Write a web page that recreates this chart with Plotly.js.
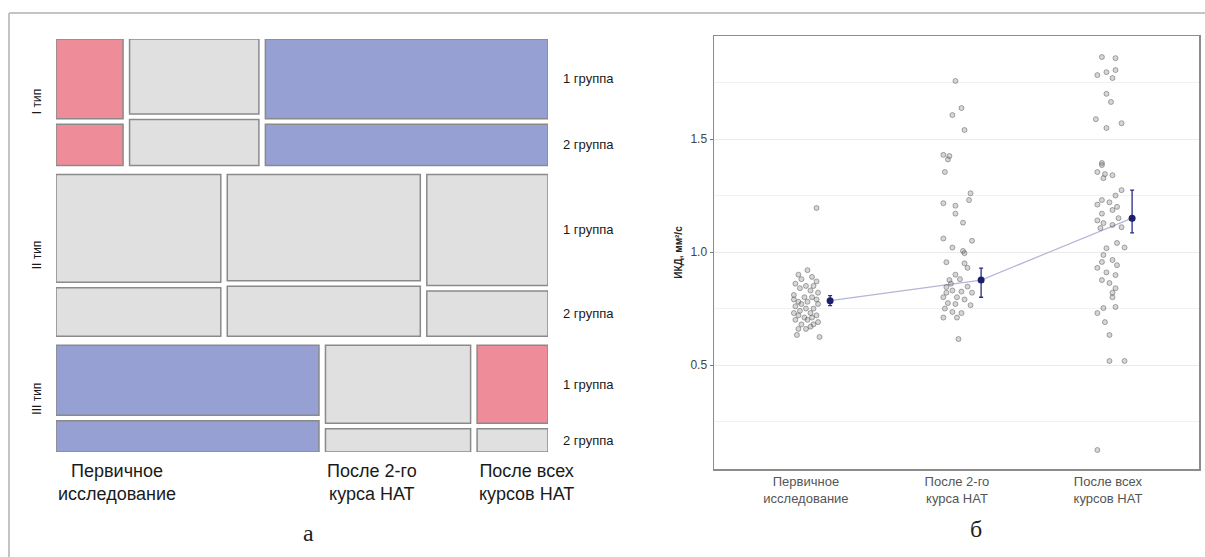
<!DOCTYPE html>
<html>
<head>
<meta charset="utf-8">
<script src="https://cdn.plot.ly/plotly-3.0.1.min.js"></script>
<style>html,body{margin:0;padding:0;background:#fff;}#chart{width:1205px;height:557px;}</style>
</head>
<body>
<div id="chart"></div>
<script>
// ---------- Mosaic (a) data ----------
const typeLabels = ['I тип', 'II тип', 'III тип'];
const groupLabels = ['1 группа', '2 группа'];
const timeLabels = ['Первичное<br>исследование', 'После 2-го<br>курса НАТ', 'После всех<br>курсов НАТ'];
const typeShare = [0.32, 0.41, 0.27];
const timeShareI = [0.14, 0.27, 0.59];
const timeShareII = [0.344, 0.403, 0.253];
const timeShareIII = [0.549, 0.303, 0.148];
const group1ShareI = [0.66, 0.62, 0.66];
const group1ShareII = [0.69, 0.68, 0.71];
const group1ShareIII = [0.69, 0.77, 0.77];
// residual shading: 'hi' = pink, 'lo' = blue, 'no' = grey
const shadeG1I = ['hi', 'no', 'lo'];
const shadeG2I = ['hi', 'no', 'lo'];
const shadeG1II = ['no', 'no', 'no'];
const shadeG2II = ['no', 'no', 'no'];
const shadeG1III = ['lo', 'no', 'hi'];
const shadeG2III = ['lo', 'no', 'no'];

// ---------- Jitter plot (б) data ----------
const catLabels = ['Первичное<br>исследование', 'После 2-го<br>курса НАТ', 'После всех<br>курсов НАТ'];
const ikd0 = [0.90,0.92,0.88,0.89,0.87,0.86,0.85,0.85,0.84,0.83,0.82,0.81,0.80,0.80,0.79,0.78,0.78,0.77,0.77,0.76,0.75,0.75,0.74,0.73,0.73,0.72,0.72,0.71,0.71,0.70,0.70,0.69,0.68,0.68,0.66,0.66,0.633,0.624,0.67,0.79,1.195];
const jit0 = [-0.05,0.01,-0.03,0.04,0.07,-0.07,0.00,0.05,-0.04,0.03,0.08,-0.08,-0.01,0.04,0.07,-0.05,0.01,-0.03,0.08,-0.07,0.00,0.05,-0.04,0.03,-0.08,0.07,-0.05,-0.01,0.04,-0.07,0.01,0.08,-0.03,0.05,-0.05,0.00,-0.06,0.09,0.03,-0.08,0.07];
const ikd1 = [1.757,1.637,1.606,1.54,1.43,1.425,1.41,1.354,1.26,1.23,1.216,1.205,1.17,1.13,1.06,1.05,1.02,1.005,0.995,0.955,0.95,0.93,0.90,0.876,0.88,0.845,0.847,0.83,0.825,0.82,0.80,0.80,0.774,0.765,0.75,0.735,0.73,0.71,0.71,0.615,0.86,0.79,0.77,0.82];
const jit1 = [-0.01,0.03,-0.03,0.05,-0.09,-0.05,-0.06,-0.08,0.09,0.08,-0.09,-0.01,-0.01,0.04,-0.09,0.10,-0.03,0.04,0.05,-0.07,0.05,0.07,-0.01,-0.05,0.02,-0.07,0.07,-0.03,0.03,0.10,-0.09,0.00,-0.06,0.09,-0.08,-0.03,0.03,-0.09,0.00,0.01,-0.04,0.05,-0.01,-0.07];
const ikd2 = [1.863,1.858,1.796,1.805,1.783,1.77,1.70,1.664,1.588,1.57,1.549,1.394,1.385,1.354,1.345,1.34,1.327,1.274,1.25,1.23,1.22,1.21,1.20,1.186,1.17,1.15,1.14,1.128,1.12,1.11,1.106,1.04,1.02,1.017,0.987,0.965,0.956,0.942,0.93,0.91,0.898,0.876,0.863,0.84,0.80,0.82,0.757,0.752,0.73,0.69,0.633,0.518,0.518,0.124];
const jit2 = [-0.04,0.05,-0.01,0.05,-0.07,0.03,-0.01,0.02,-0.08,0.09,-0.01,-0.04,-0.04,-0.07,-0.02,0.03,-0.03,0.09,0.05,-0.04,0.01,-0.07,0.06,0.03,-0.04,0.07,-0.07,-0.03,0.03,0.09,-0.05,0.06,0.11,-0.01,-0.03,0.03,-0.04,0.06,-0.07,-0.01,0.05,-0.04,0.01,0.05,0.03,0.03,0.05,-0.03,-0.07,-0.02,0.01,0.01,0.11,-0.07];
const meanIkd = [0.785, 0.876, 1.150];
const errUp = [0.022, 0.053, 0.124];
const errDown = [0.022, 0.076, 0.065];

// ---------- build mosaic rectangles ----------
const COLORS = {hi: '#EF8C9A', lo: '#97A0D3', no: '#E0E0E0'};
const timeShares = [timeShareI, timeShareII, timeShareIII];
const g1Shares = [group1ShareI, group1ShareII, group1ShareIII];
const shadesG1 = [shadeG1I, shadeG1II, shadeG1III];
const shadesG2 = [shadeG2I, shadeG2II, shadeG2III];
const gapX = 0.0132, gapY = 0.0218, gapG = 0.0133;

const bx = [], bw = [], bb = [], bh = [], bc = [];
const annotations = [];
const fontSans = 'Liberation Sans, Arial, sans-serif';
let y0 = 0;
const lastRowStarts = [];
for (let t = 0; t < 3; t++) {
  const h = typeShare[t] * (1 - 2 * gapY);
  let x0 = 0;
  let lastG1Center = 0, lastG2Center = 0;
  for (let c = 0; c < 3; c++) {
    const w = timeShares[t][c] * (1 - 2 * gapX);
    const h1 = g1Shares[t][c] * (h - gapG);
    const h2 = h - gapG - h1;
    bx.push(x0 + w / 2); bw.push(w); bb.push(y0); bh.push(h1); bc.push(COLORS[shadesG1[t][c]]);
    bx.push(x0 + w / 2); bw.push(w); bb.push(y0 + h1 + gapG); bh.push(h2); bc.push(COLORS[shadesG2[t][c]]);
    lastG1Center = y0 + h1 / 2;
    lastG2Center = y0 + h1 + gapG + h2 / 2;
    if (t === 2) lastRowStarts.push(x0);
    x0 += w + gapX;
  }
  annotations.push({xref: 'x', yref: 'y', x: 1, y: lastG1Center, xanchor: 'left', yanchor: 'middle', xshift: 13, text: groupLabels[0], showarrow: false, font: {family: fontSans, size: 13, color: '#1a1a1a'}});
  annotations.push({xref: 'x', yref: 'y', x: 1, y: lastG2Center, xanchor: 'left', yanchor: 'middle', xshift: 13, text: groupLabels[1], showarrow: false, font: {family: fontSans, size: 13, color: '#1a1a1a'}});
  annotations.push({xref: 'x', yref: 'y', x: 0, y: y0 + h / 2, xanchor: 'center', yanchor: 'middle', xshift: -19, textangle: -90, text: typeLabels[t], showarrow: false, font: {family: fontSans, size: 12, color: '#1a1a1a'}});
  y0 += h + gapY;
}
for (let c = 0; c < 3; c++) {
  annotations.push({xref: 'x', yref: 'y', x: lastRowStarts[c], y: 1, xanchor: 'left', yanchor: 'top', yshift: -7, align: 'center', text: timeLabels[c], showarrow: false, font: {family: fontSans, size: 18, color: '#1a1a1a'}});
}
annotations.push({xref: 'paper', yref: 'paper', x: 308 / 1205, y: 1 - 533 / 557, xanchor: 'center', yanchor: 'middle', text: 'а', showarrow: false, font: {family: 'Liberation Serif, DejaVu Serif, serif', size: 24, color: '#222'}});
annotations.push({xref: 'paper', yref: 'paper', x: 976 / 1205, y: 1 - 529 / 557, xanchor: 'center', yanchor: 'middle', text: 'б', showarrow: false, font: {family: 'Liberation Serif, DejaVu Serif, serif', size: 24, color: '#222'}});

const mosaic = {
  type: 'bar', xaxis: 'x', yaxis: 'y',
  x: bx, width: bw, base: bb, y: bh,
  marker: {color: bc, line: {color: '#8a8a8a', width: 1.5}},
  hoverinfo: 'skip', showlegend: false
};

// ---------- jitter traces ----------
const meanOffset = 0.16;
const meanX = meanIkd.map((v, i) => i + meanOffset);
const ptsX = [].concat(jit0.map(j => 0 + j), jit1.map(j => 1 + j), jit2.map(j => 2 + j));
const ptsY = [].concat(ikd0, ikd1, ikd2);

const meanLine = {type: 'scatter', mode: 'lines', xaxis: 'x2', yaxis: 'y2', x: meanX, y: meanIkd,
  line: {color: '#b3b7d6', width: 1.2}, hoverinfo: 'skip', showlegend: false};
const points = {type: 'scatter', mode: 'markers', xaxis: 'x2', yaxis: 'y2', x: ptsX, y: ptsY,
  marker: {size: 5, color: 'rgba(120,120,120,0.30)', line: {color: 'rgba(70,70,70,0.55)', width: 0.8}},
  showlegend: false};
const means = {type: 'scatter', mode: 'markers', xaxis: 'x2', yaxis: 'y2', x: meanX, y: meanIkd,
  marker: {size: 7, color: '#1c206b'},
  error_y: {type: 'data', symmetric: false, array: errUp, arrayminus: errDown, color: '#2a2f80', thickness: 1.3, width: 2},
  showlegend: false};

const W = 1205, H = 557;
const layout = {
  width: W, height: H,
  margin: {l: 0, r: 0, t: 0, b: 0},
  paper_bgcolor: '#fff', plot_bgcolor: 'rgba(0,0,0,0)',
  showlegend: false,
  bargap: 0,
  xaxis: {domain: [56 / W, 548 / W], range: [0, 1], visible: false, fixedrange: true},
  yaxis: {domain: [1 - 452 / H, 1 - 39 / H], range: [1, 0], visible: false, fixedrange: true},
  xaxis2: {domain: [714 / W, 1199 / W], anchor: 'y2', range: [-0.609, 2.603],
    tickmode: 'array', tickvals: [0, 1, 2], ticktext: catLabels, ticks: '',
    showgrid: false, zeroline: false, showline: true, mirror: true, linecolor: '#8c8c8c', linewidth: 1.5,
    tickfont: {family: fontSans, size: 13, color: '#555'}},
  yaxis2: {domain: [1 - 469 / H, 1 - 36 / H], anchor: 'x2', range: [0.04, 1.956],
    tick0: 0, dtick: 0.5, tickformat: '.1f', ticks: 'outside', ticklen: 3, tickcolor: '#777',
    showgrid: true, gridcolor: '#ebebeb', gridwidth: 1, zeroline: false,
    minor: {dtick: 0.25, tick0: 0, showgrid: true, gridcolor: '#f1f1f1', ticks: ''},
    showline: true, mirror: true, linecolor: '#8c8c8c', linewidth: 1.5,
    tickfont: {family: fontSans, size: 12, color: '#444'},
    title: {text: '<b>ИКД, мм²/с</b>', standoff: 6, font: {family: fontSans, size: 10, color: '#222'}}},
  annotations: annotations,
  shapes: [
    {type: 'line', xref: 'paper', yref: 'paper', x0: 9 / W, x1: 1, y0: 1 - 13 / H, y1: 1 - 13 / H, line: {color: '#c4c4c4', width: 2}},
    {type: 'line', xref: 'paper', yref: 'paper', x0: 9 / W, x1: 9 / W, y0: 0, y1: 1 - 13 / H, line: {color: '#c4c4c4', width: 2}}
  ]
};

Plotly.newPlot('chart', [mosaic, meanLine, points, means], layout, {staticPlot: true, displayModeBar: false});
</script>
</body>
</html>
